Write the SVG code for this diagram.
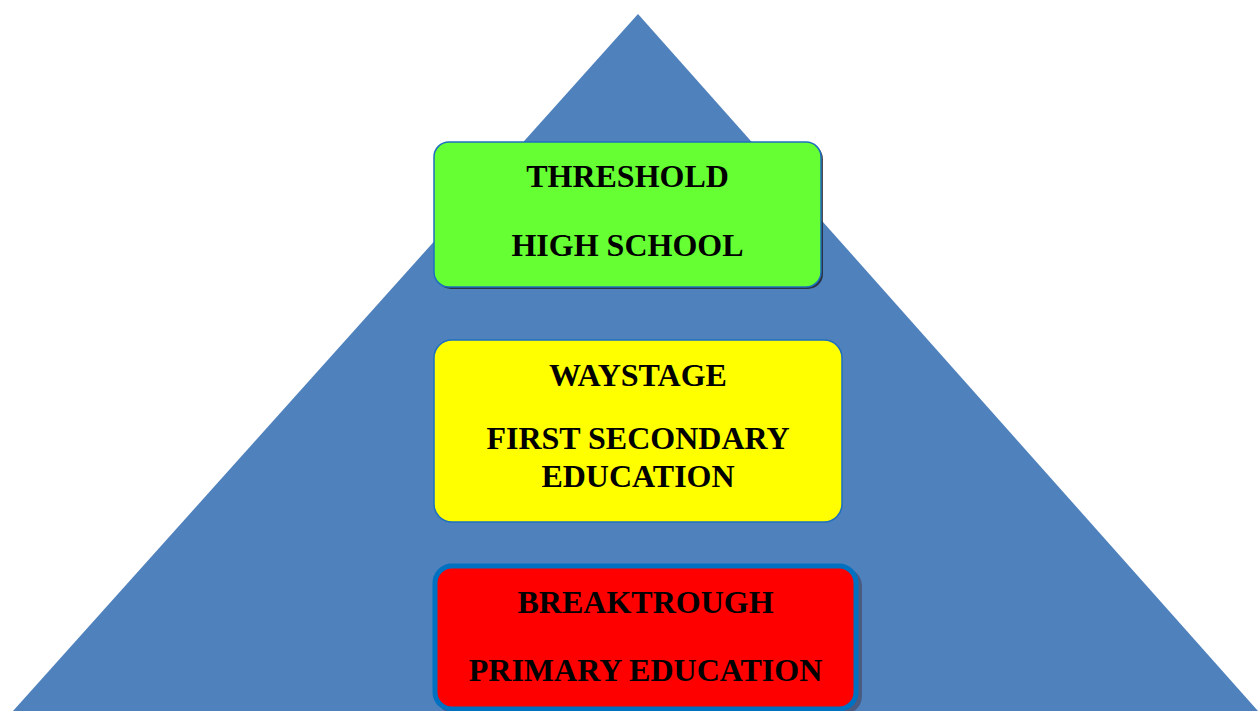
<svg xmlns="http://www.w3.org/2000/svg" width="1259" height="711" viewBox="0 0 1259 711">
<style>
text{font-family:"Liberation Serif","Times New Roman",serif;font-weight:bold;font-size:32px;fill:#000;text-anchor:middle}
.box{stroke:#1F6FBF;stroke-width:1.5}
</style>
<rect width="1259" height="711" fill="#fff"/>
<g id="pyramid"><polygon points="638,14 13,711 1258,711" fill="#4F81BD"/></g>
<g id="connectors"/>
<g id="threshold">
<rect x="436" y="144" width="387" height="145" rx="15" fill="#222" opacity="0.8"/>
<rect class="box" x="434" y="142" width="387" height="145" rx="15" fill="#66FF33"/>
<text x="627.5" y="187">THRESHOLD</text>
<text x="627.5" y="256">HIGH SCHOOL</text>
</g>
<g id="waystage">
<rect class="box" x="434" y="340" width="408" height="182" rx="18" fill="#FFFF00"/>
<text x="638" y="386">WAYSTAGE</text>
<text x="638" y="449">FIRST SECONDARY</text>
<text x="638" y="487">EDUCATION</text>
</g>
<g id="breakthrough">
<rect x="437" y="568" width="425" height="146" rx="18" fill="#4A5A80"/>
<rect x="435" y="566" width="421" height="143" rx="17" fill="#FF0000" stroke="#0070C0" stroke-width="5"/>
<text x="645.5" y="613">BREAKTROUGH</text>
<text x="645.5" y="681">PRIMARY EDUCATION</text>
</g>
</svg>
